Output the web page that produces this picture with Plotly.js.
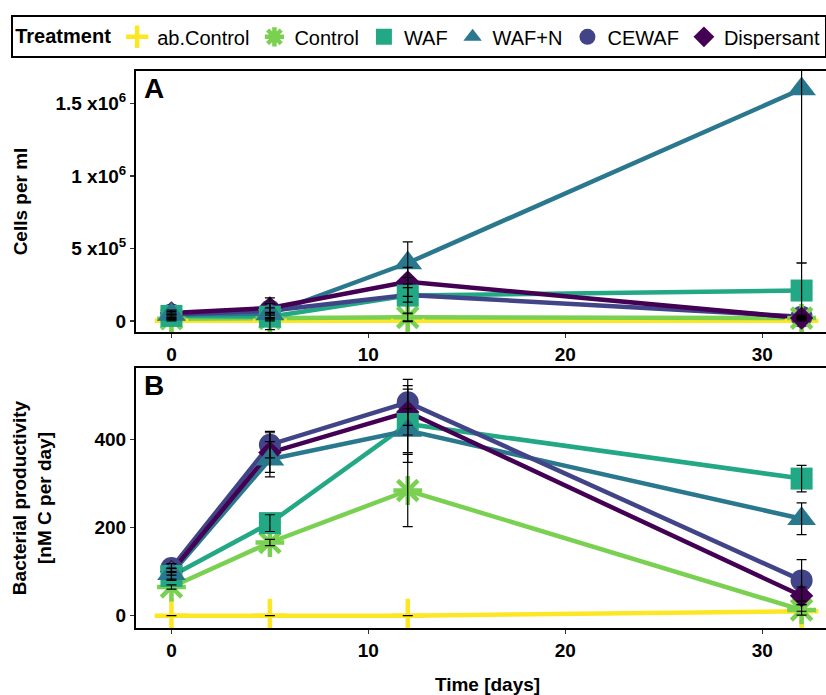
<!DOCTYPE html>
<html>
<head>
<meta charset="utf-8">
<script src="https://cdn.plot.ly/plotly-3.0.1.min.js"></script>
<style>
html, body { margin: 0; padding: 0; overflow: hidden; background: #fff; width: 826px; height: 695px; }
#chart { width: 850px; height: 695px; }
</style>
</head>
<body>
<div id="chart"></div>
<script>
// ---------- data ----------
const days = [0, 5, 12, 32];
const treatments = ['ab.Control', 'Control', 'WAF', 'WAF+N', 'CEWAF', 'Dispersant'];

// Panel A: cells per ml (mean and error)
const cellsAbControl = [1000, 1000, 1000, 1000];
const cellsAbControlErr = [0, 0, 0, 0];
const cellsControl = [15000, 18000, 25000, 20000];
const cellsControlErr = [5000, 5000, 30000, 5000];
const cellsWAF = [35000, 30000, 175000, 210000];
const cellsWAFErr = [10000, 10000, 125000, 190000];
const cellsWAFN = [45000, 50000, 400000, 1600000];
const cellsWAFNErr = [30000, 110000, 145000, 1200000];
const cellsCEWAF = [45000, 70000, 180000, 30000];
const cellsCEWAFErr = [10000, 20000, 50000, 10000];
const cellsDispersant = [55000, 90000, 270000, 20000];
const cellsDispersantErr = [10000, 30000, 100000, 10000];

// Panel B: bacterial productivity (nM C per day)
const prodAbControl = [0, 0, 0, 10];
const prodAbControlErr = [0, 0, 0, 0];
const prodControl = [65, 166, 284, 13];
const prodControlErr = [5, 7, 82, 12];
const prodWAF = [90, 210, 435, 311];
const prodWAFErr = [10, 19, 87, 30];
const prodWAFN = [95, 355, 420, 220];
const prodWAFNErr = [12, 40, 50, 36];
const prodCEWAF = [108, 388, 484, 80];
const prodCEWAFErr = [10, 30, 52, 47];
const prodDispersant = [100, 370, 462, 45];
const prodDispersantErr = [8, 45, 52, 20];

// tick labels
const cellTickVals = [0, 500000, 1000000, 1500000];
const cellTickText = ['0', '5 x10<sup>5</sup>', '1 x10<sup>6</sup>', '1.5 x10<sup>6</sup>'];
const prodTickVals = [0, 200, 400];
const xTickVals = [0, 10, 20, 30];

// ---------- styles ----------
const colors = ['#FDE725', '#7AD151', '#22A884', '#2A788E', '#414487', '#440154'];
const symbols = ['cross-thin-open', 'asterisk-open', 'square', 'triangle-up', 'circle', 'diamond'];
const sizes = [24, 24, 22, 25, 22, 18];
// points are stacked in data-row (alphabetical) order: ab.Control, CEWAF, Control, Dispersant, WAF, WAF+N
const pointOrder = [0, 4, 1, 5, 2, 3];

const cellsSeries = [cellsAbControl, cellsControl, cellsWAF, cellsWAFN, cellsCEWAF, cellsDispersant];
const cellsErrs = [cellsAbControlErr, cellsControlErr, cellsWAFErr, cellsWAFNErr, cellsCEWAFErr, cellsDispersantErr];
const prodSeries = [prodAbControl, prodControl, prodWAF, prodWAFN, prodCEWAF, prodDispersant];
const prodErrs = [prodAbControlErr, prodControlErr, prodWAFErr, prodWAFNErr, prodCEWAFErr, prodDispersantErr];

const FONT = 'Liberation Sans, Arial, sans-serif';
const traces = [];

function addPanel(series, errs, xa, ya, legend) {
  series.forEach((ys, i) => {
    traces.push({
      x: days, y: ys, xaxis: xa, yaxis: ya, type: 'scatter', mode: 'lines',
      line: { color: colors[i], width: 4.5 }, showlegend: false, hoverinfo: 'skip'
    });
  });
  pointOrder.forEach(i => {
    const ys = series[i];
    const open = symbols[i].endsWith('-open');
    traces.push({
      x: days, y: ys, xaxis: xa, yaxis: ya, type: 'scatter', mode: 'markers',
      name: treatments[i], legendgroup: treatments[i], showlegend: legend, legendrank: i + 1,
      marker: {
        symbol: symbols[i], size: sizes[i], color: colors[i],
        line: open ? { color: colors[i], width: 4.5 } : { width: 0 }
      }
    });
  });
  series.forEach((ys, i) => {
    traces.push({
      x: days, y: ys, xaxis: xa, yaxis: ya, type: 'scatter', mode: 'markers',
      marker: { size: 1, color: 'rgba(0,0,0,0)' }, showlegend: false, hoverinfo: 'skip',
      error_y: { type: 'data', array: errs[i], visible: true, color: '#000', thickness: 1.2, width: 5 }
    });
  });
}

addPanel(cellsSeries, cellsErrs, 'x', 'y', true);
addPanel(prodSeries, prodErrs, 'x2', 'y2', false);

const axisCommon = {
  showline: true, mirror: true, linecolor: '#000', linewidth: 2,
  showgrid: false, zeroline: false, ticks: 'outside', ticklen: 4, tickwidth: 1.2, tickcolor: '#333',
  tickfont: { family: FONT, size: 19, color: '#000', weight: 'bold' }
};

const layout = {
  width: 850, height: 695,
  margin: { l: 132, r: 11, t: 71, b: 67 },
  paper_bgcolor: '#fff', plot_bgcolor: '#fff',
  font: { family: FONT, color: '#000' },
  xaxis: Object.assign({}, axisCommon, {
    domain: [0, 1], anchor: 'y', range: [-1.8, 33.9], tickvals: xTickVals
  }),
  yaxis: Object.assign({}, axisCommon, {
    domain: [0.5314, 1], anchor: 'x', range: [-76000, 1724000],
    tickvals: cellTickVals, ticktext: cellTickText,
    title: { text: '<b>Cells per ml</b>', font: { family: FONT, size: 19, color: '#000' }, standoff: 23 }
  }),
  xaxis2: Object.assign({}, axisCommon, {
    domain: [0, 1], anchor: 'y2', range: [-1.8, 33.9], tickvals: xTickVals,
    title: { text: '<b>Time [days]</b>', font: { family: FONT, size: 19, color: '#000' }, standoff: 24 }
  }),
  yaxis2: Object.assign({}, axisCommon, {
    domain: [0, 0.4668], anchor: 'x2', range: [-28, 562], tickvals: prodTickVals,
    title: { text: '<b>Bacterial productivity<br>[nM C per day]</b>', font: { family: FONT, size: 19, color: '#000' }, standoff: 38 }
  }),
  legend: {
    orientation: 'h', x: -0.1775, xanchor: 'left', y: 1.1, yanchor: 'top',
    bordercolor: '#000', borderwidth: 2, bgcolor: '#fff',
    font: { family: FONT, size: 20, color: '#000' },
    title: { text: '<b>Treatment</b>', font: { family: FONT, size: 20, color: '#000' }, side: 'left' },
    itemsizing: 'trace', valign: 'middle'
  },
  annotations: [
    { text: '<b>A</b>', xref: 'x domain', yref: 'y domain', x: 0.008, y: 1.0, xanchor: 'left', yanchor: 'top',
      showarrow: false, font: { family: FONT, size: 28, color: '#000' } },
    { text: '<b>B</b>', xref: 'x2 domain', yref: 'y2 domain', x: 0.008, y: 1.0, xanchor: 'left', yanchor: 'top',
      showarrow: false, font: { family: FONT, size: 28, color: '#000' } }
  ]
};

Plotly.newPlot('chart', traces, layout, { displayModeBar: false, staticPlot: true });
</script>
</body>
</html>
